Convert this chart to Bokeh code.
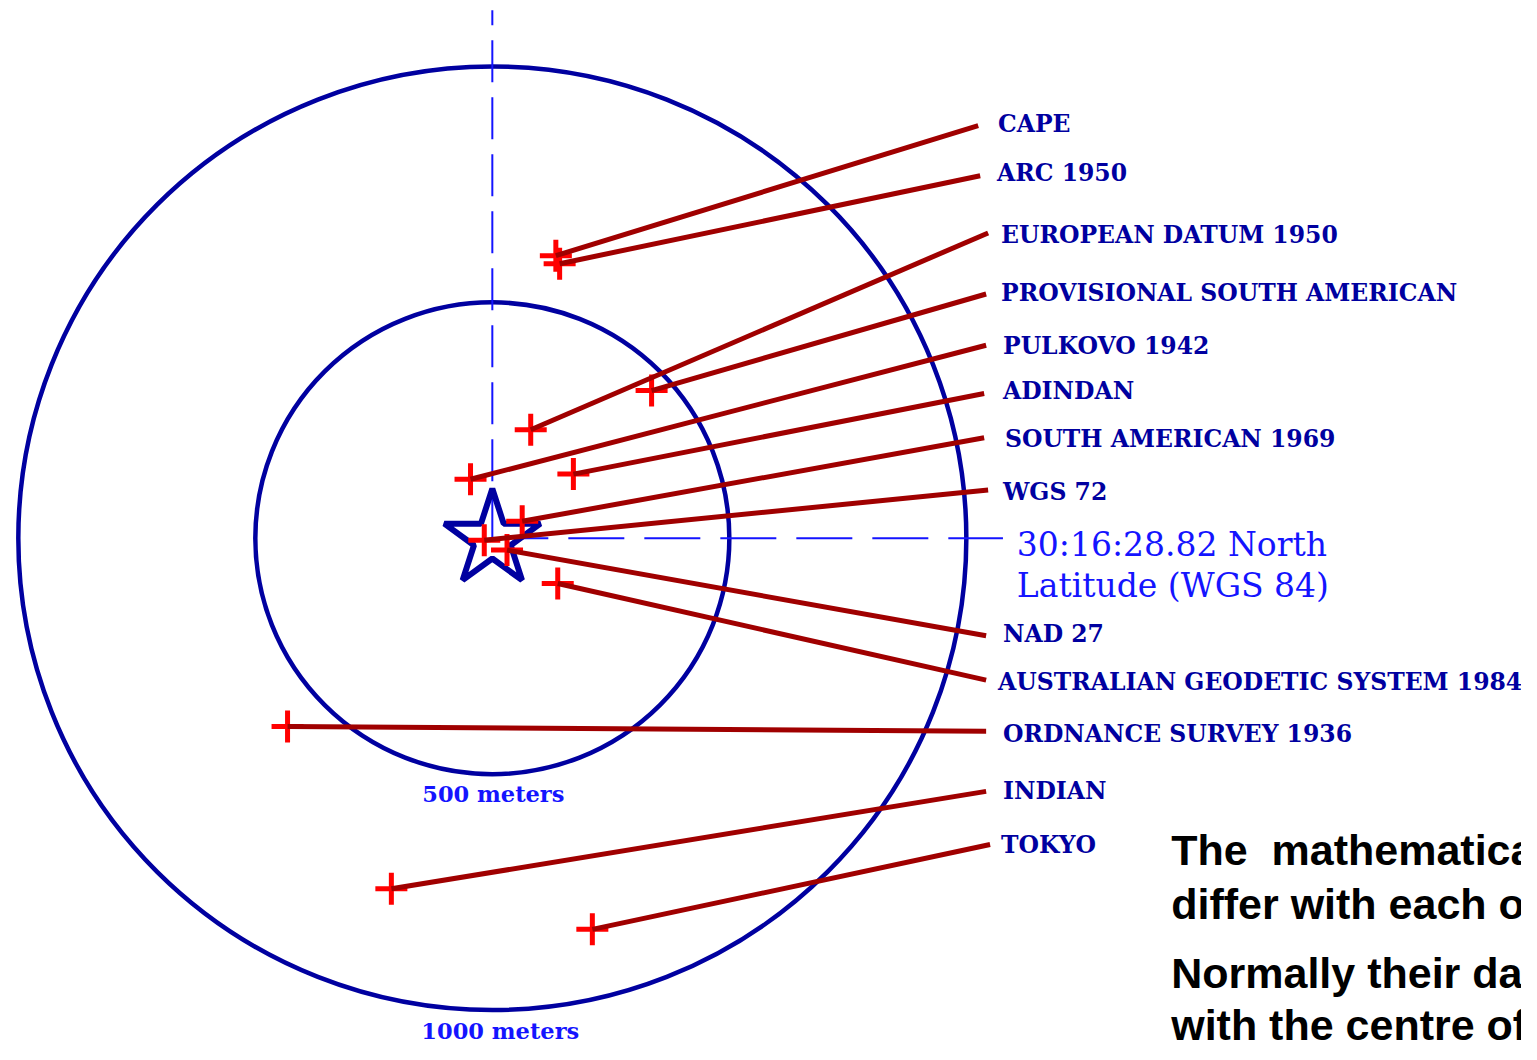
from bokeh.plotting import figure
from bokeh.models import Range1d, ColumnDataSource
from bokeh.core.properties import value
from bokeh.embed import file_html
from bokeh.resources import INLINE

# ---- data: datum origin offsets from WGS 84 point (metres east, metres north)
datums = ["CAPE", "ARC 1950", "EUROPEAN DATUM 1950", "PROVISIONAL SOUTH AMERICAN",
          "PULKOVO 1942", "ADINDAN", "SOUTH AMERICAN 1969", "WGS 72", "NAD 27",
          "AUSTRALIAN GEODETIC SYSTEM 1984", "ORDNANCE SURVEY 1936", "INDIAN", "TOKYO"]
east_m = [134, 142, 81, 336, -46, 171, 63, -17, 31, 138, -432, -213, 211]
north_m = [599, 582, 230, 313, 125, 136, 36, -4, -25, -96, -399, -743, -829]
ring_radii_m = [500, 1000]
ring_labels = ["500 meters", "1000 meters"]
origin_label = ["30:16:28.82 North", "Latitude (WGS 84)"]
note_lines = ["The \u00a0mathematical models", "differ with each other",
              "Normally their datum", "with the centre of"]

# ---- layout (positions in the 1537x1060 design frame)
W, H = 1521, 1044
FW, FH = 1537, 1060
CX, CY, SCALE = 497, 546, 0.479
label_end_px = [988, 990, 998, 996, 996, 994, 994, 998, 996, 996, 996, 996, 1000]
label_end_py = [127, 178, 236, 298, 350, 399, 444, 497, 645, 690, 742, 803, 857]
label_text_px = [1008, 1007, 1011, 1011, 1013, 1013, 1015, 1013, 1013, 1008, 1013, 1013, 1011]
label_text_py = [125, 175, 238, 297, 351, 396, 445, 499, 643, 692, 745, 803, 857]
note_baselines = [863, 917, 987, 1040]


def mx(px):
    return (px - CX) / SCALE


def my(py):
    return (CY - py) / SCALE


p = figure(width=W, height=H, output_backend="svg", toolbar_location=None,
           x_range=Range1d(mx(0), mx(FW)), y_range=Range1d(my(FH), my(0)),
           min_border=0)
p.axis.visible = False
p.xgrid.visible = False
p.ygrid.visible = False
p.outline_line_color = None
p.background_fill_color = "white"
p.border_fill_color = "white"

NAVY = "#0000A0"
BLUE = "#1414FF"
DARKRED = "#A00000"

# rings
p.ellipse(x=[0] * len(ring_radii_m), y=[0] * len(ring_radii_m),
          width=[2 * r for r in ring_radii_m], height=[2 * r for r in ring_radii_m],
          fill_color=None, line_color=NAVY, line_width=4.5)

# dashed meridian / parallel through WGS 84 point
p.line(x=[0, 0], y=[0, my(10)], line_color=BLUE, line_width=2, line_dash="42 15")
p.line(x=[0, mx(1013)], y=[0, 0], line_color=BLUE, line_width=2, line_dash="56 20")

# WGS 84 star
p.scatter(x=[0], y=[my(547)], marker="star", size=101, fill_color=None,
          line_color=NAVY, line_width=6)

# datum crosses
src = ColumnDataSource(dict(x=east_m, y=north_m))
p.scatter(x="x", y="y", source=src, marker="cross", size=32, line_color="#FF0000",
          line_width=5)

# leader lines to labels
xs = [[e, mx(px)] for e, px in zip(east_m, label_end_px)]
ys = [[n, my(py)] for n, py in zip(north_m, label_end_py)]
p.multi_line(xs=xs, ys=ys, line_color=DARKRED, line_width=5)

# datum labels
p.text(x=[mx(v) for v in label_text_px], y=[my(v) for v in label_text_py], text=datums,
       text_font=value("DejaVu Serif"), text_font_style="bold", text_font_size="23.5px",
       text_color=NAVY, text_align="left", text_baseline="middle")

# ring labels
p.text(x=[mx(498), mx(505)], y=[my(806), my(1046)], text=ring_labels,
       text_font=value("DejaVu Serif"), text_font_style="bold", text_font_size="22.5px",
       text_color=BLUE, text_align="center", text_baseline="middle")

# origin latitude label
p.text(x=[mx(1027), mx(1027)], y=[my(552), my(594)], text=origin_label,
       text_font=value("DejaVu Serif"), text_font_size="33px",
       text_color=BLUE, text_align="left", text_baseline="middle")

# explanatory note (cut by the page edge, as in the original slide)
p.text(x=[mx(1183)] * 4, y=[my(v) for v in note_baselines], text=note_lines,
       text_font=value("Liberation Sans"), text_font_style="bold", text_font_size="43px",
       text_color="black", text_align="left", text_baseline="alphabetic")

open("out.html", "w").write(file_html(p, INLINE))
